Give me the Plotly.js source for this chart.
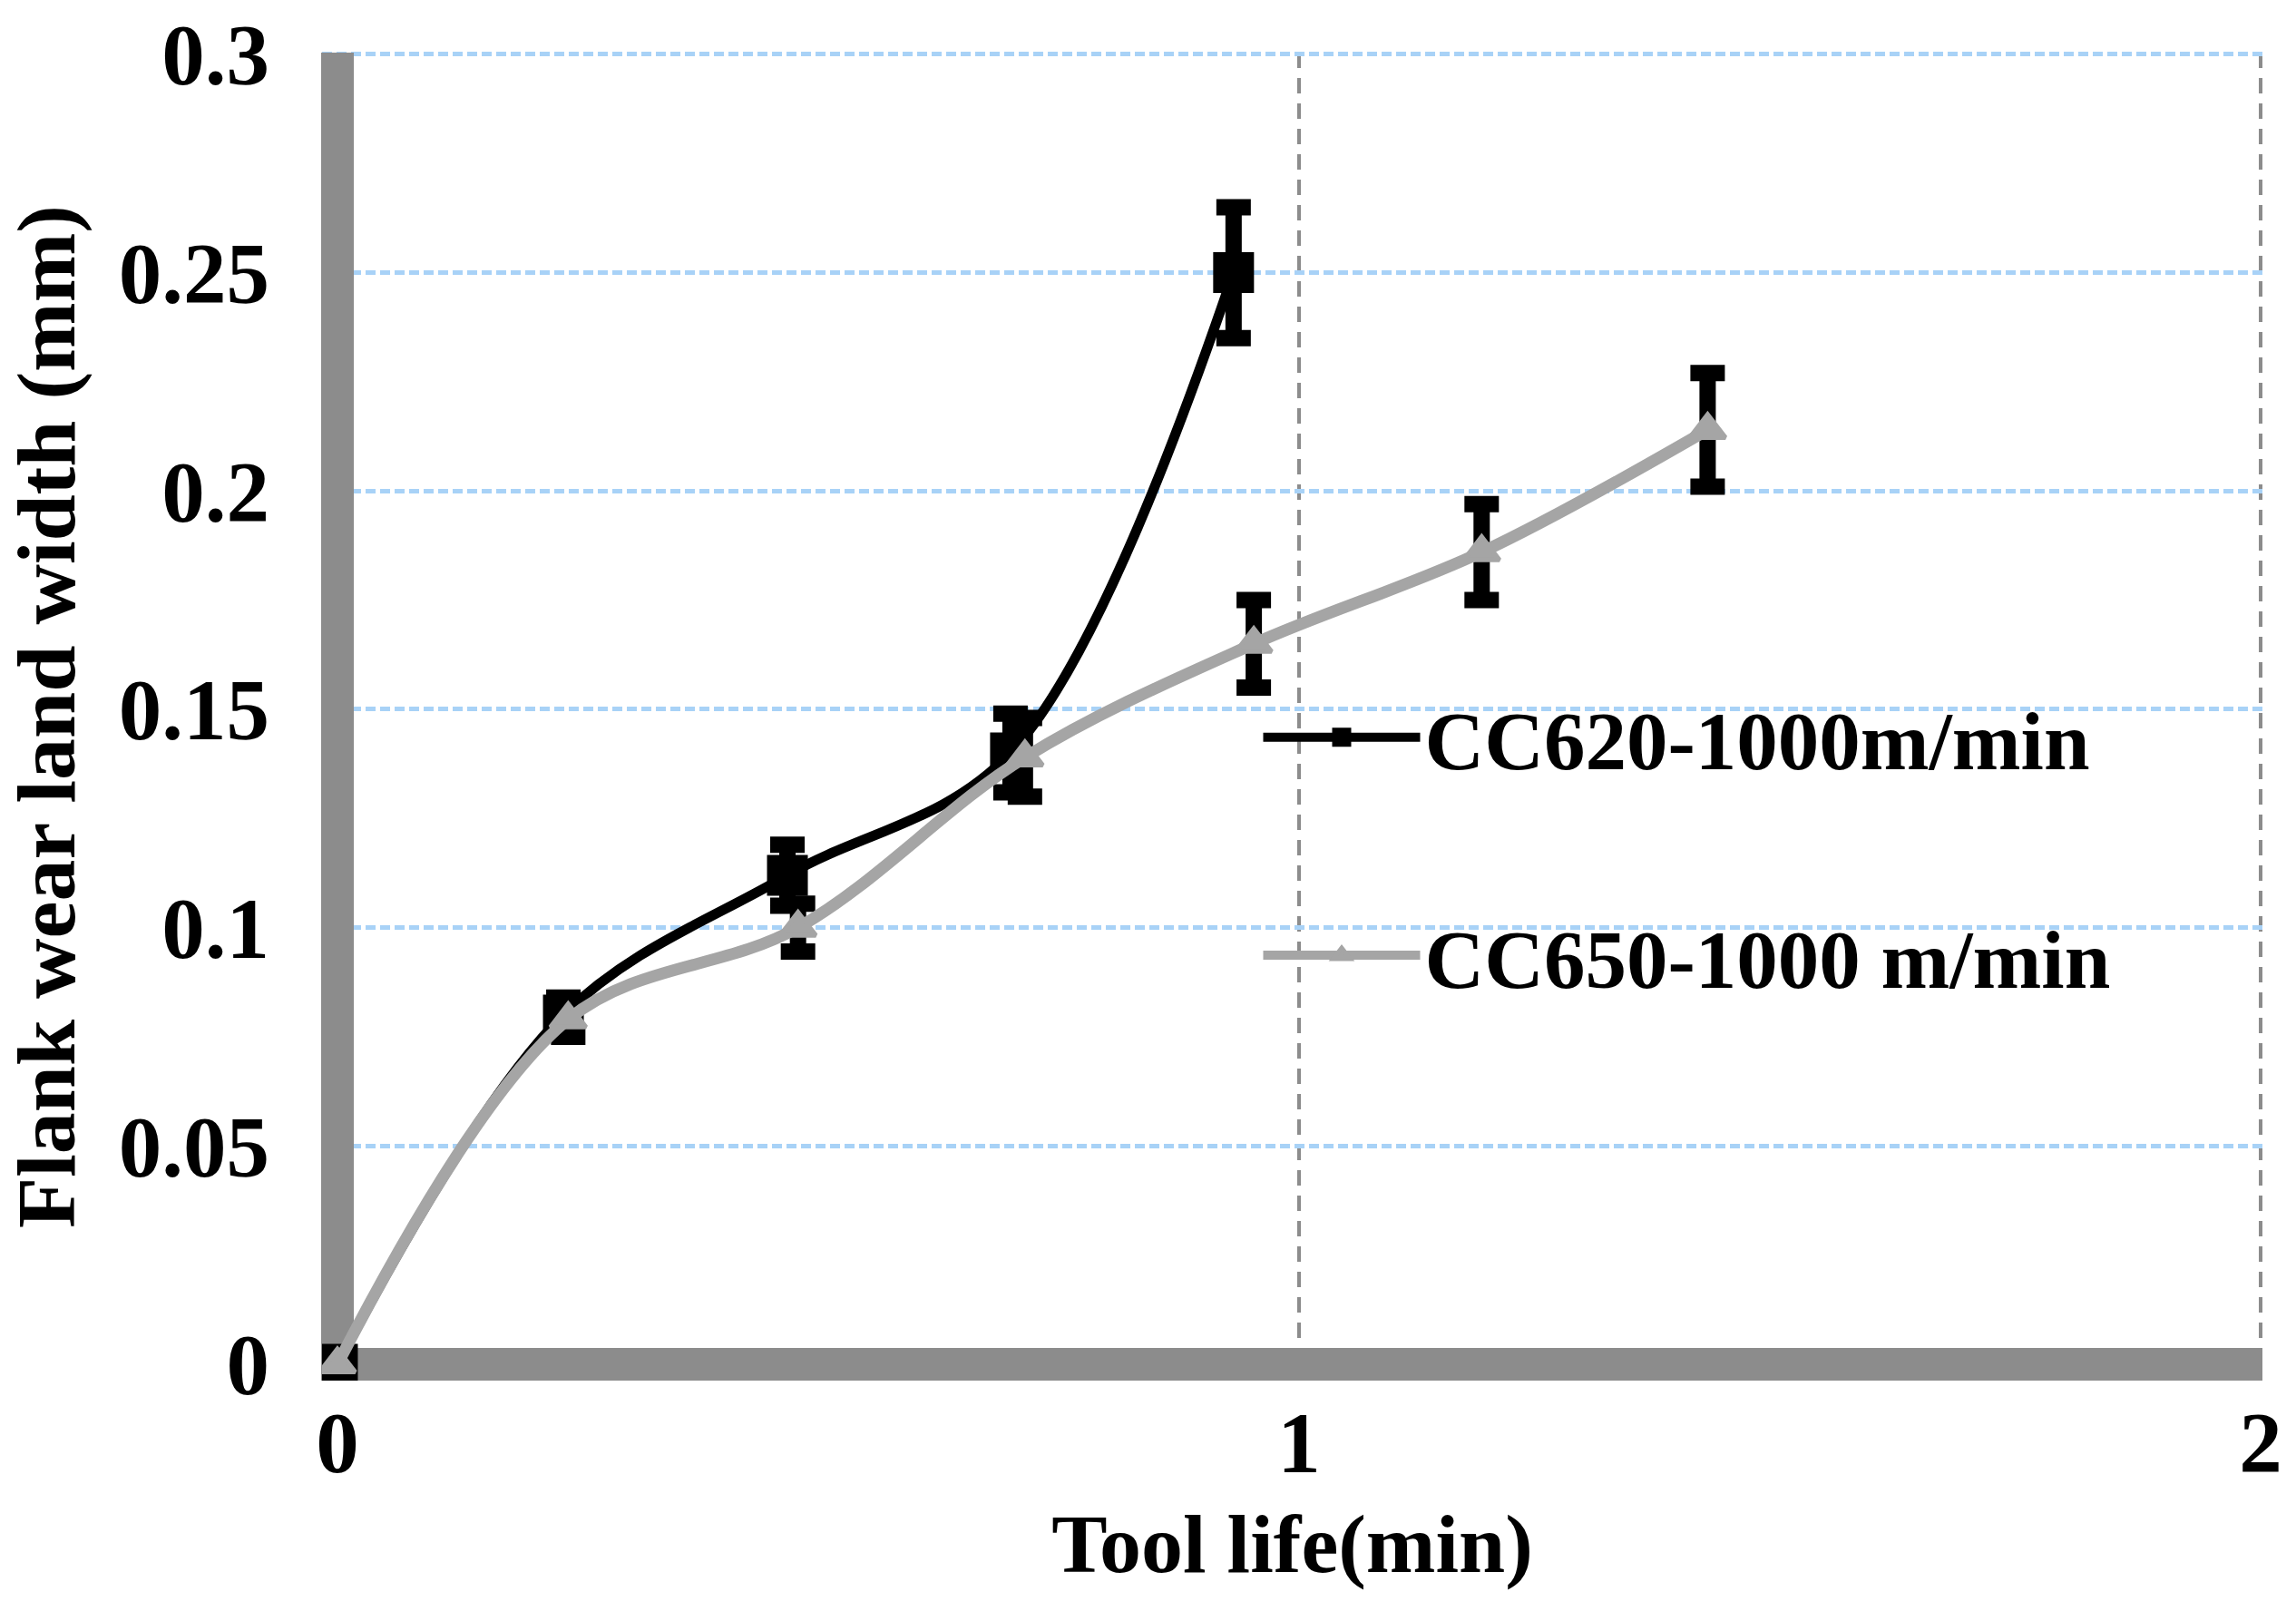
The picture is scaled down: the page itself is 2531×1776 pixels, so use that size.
<!DOCTYPE html>
<html>
<head>
<meta charset="utf-8">
<script src="https://cdn.plot.ly/plotly-3.0.1.min.js"></script>
<style>
  html, body { margin: 0; padding: 0; background: #fff; }
  #wearChart { width: 2531px; height: 1776px; }
</style>
</head>
<body>
<div id="wearChart"></div>
<script>
// CC620 insert, 1000 m/min
const timeCC620 = [0, 0.235, 0.468, 0.70, 0.932];
const wearCC620 = [0, 0.08, 0.112, 0.14, 0.25];
const errCC620 = [0, 0.004, 0.007, 0.009, 0.015];

// CC650 insert, 1000 m/min
const timeCC650 = [0, 0.24, 0.479, 0.715, 0.953, 1.19, 1.425];
const wearCC650 = [0, 0.079, 0.1, 0.139, 0.165, 0.186, 0.214];
const errCC650 = [0, 0.004, 0.0055, 0.009, 0.01, 0.011, 0.013];

const seriesNames = ['CC620-1000m/min', 'CC650-1000 m/min'];

// Axis ticks
const xTickVals = [0, 1, 2];
const xTickText = ['0', '1', '2'];
const yTickVals = [0, 0.05, 0.1, 0.15, 0.2, 0.25, 0.3];
const yTickText = ['0', '0.05', '0.1', '0.15', '0.2', '0.25', '0.3'];

const FONT = '"Liberation Serif", "Times New Roman", serif';
const AXIS_GREY = '#8c8c8c';

const traceCC620 = {
    x: timeCC620,
    y: wearCC620,
    name: seriesNames[0],
    legendgroup: 'a',
    type: 'scatter',
    mode: 'lines+markers',
    line: { color: '#000000', width: 11, shape: 'spline', smoothing: 1 },
    marker: {
        symbol: 'square',
        size: 40,
        color: '#000000',
        line: { color: '#000000', width: 5 }
    },
    error_y: {
        type: 'data',
        array: errCC620,
        visible: true,
        color: '#000000',
        thickness: 18,
        width: 19
    },
    hoverinfo: 'skip'
};

const traceCC650 = {
    x: timeCC650,
    y: wearCC650,
    name: seriesNames[1],
    legendgroup: 'b',
    type: 'scatter',
    mode: 'lines+markers',
    line: { color: '#a5a5a5', width: 13, shape: 'spline', smoothing: 1 },
    marker: {
        symbol: 'triangle-up',
        size: 34,
        color: '#a5a5a5',
        line: { color: '#a5a5a5', width: 5 }
    },
    error_y: {
        type: 'data',
        array: errCC650,
        visible: true,
        color: '#000000',
        thickness: 18,
        width: 19
    },
    hoverinfo: 'skip'
};

const layout = {
    width: 2531,
    height: 1776,
    margin: { l: 355, r: 37, t: 58, b: 254 },
    paper_bgcolor: '#ffffff',
    plot_bgcolor: '#ffffff',
    font: { family: FONT, color: '#000000', size: 90 },
    showlegend: true,
    xaxis: {
        range: [-0.016, 2.002],
        tickvals: xTickVals,
        ticktext: xTickText,
        ticks: '',
        ticklabelstandoff: 5,
        tickfont: { family: FONT, size: 95, weight: 'bold' },
        showgrid: true,
        gridcolor: AXIS_GREY,
        gridwidth: 4,
        griddash: '17px,11px',
        zeroline: true,
        zerolinecolor: AXIS_GREY,
        zerolinewidth: 36,
        showline: false,
        automargin: false,
        title: {
            text: 'Tool life(min)',
            standoff: 25,
            font: { family: FONT, size: 92, weight: 'bold' }
        }
    },
    yaxis: {
        range: [-0.00374, 0.3004],
        tickvals: yTickVals,
        ticktext: yTickText,
        ticks: '',
        ticklabelstandoff: 57,
        tickfont: { family: FONT, size: 95, weight: 'bold' },
        showgrid: true,
        gridcolor: '#a8d2f7',
        gridwidth: 5,
        griddash: '11px,5px',
        zeroline: true,
        zerolinecolor: AXIS_GREY,
        zerolinewidth: 36,
        showline: false,
        automargin: false,
        title: {
            text: 'Flank wear land width (mm)',
            standoff: 40,
            font: { family: FONT, size: 92, weight: 'bold' }
        }
    },
    legend: {
        x: 0.4827,
        y: 0.5293,
        xanchor: 'left',
        yanchor: 'top',
        bgcolor: 'rgba(0,0,0,0)',
        borderwidth: 0,
        font: { family: FONT, size: 91, weight: 'bold', color: '#000000' },
        itemwidth: 173,
        traceorder: 'grouped',
        tracegroupgap: 119
    }
};

const config = { responsive: false, displayModeBar: false, staticPlot: true };

Plotly.newPlot('wearChart', [traceCC620, traceCC650], layout, config);
</script>
</body>
</html>
